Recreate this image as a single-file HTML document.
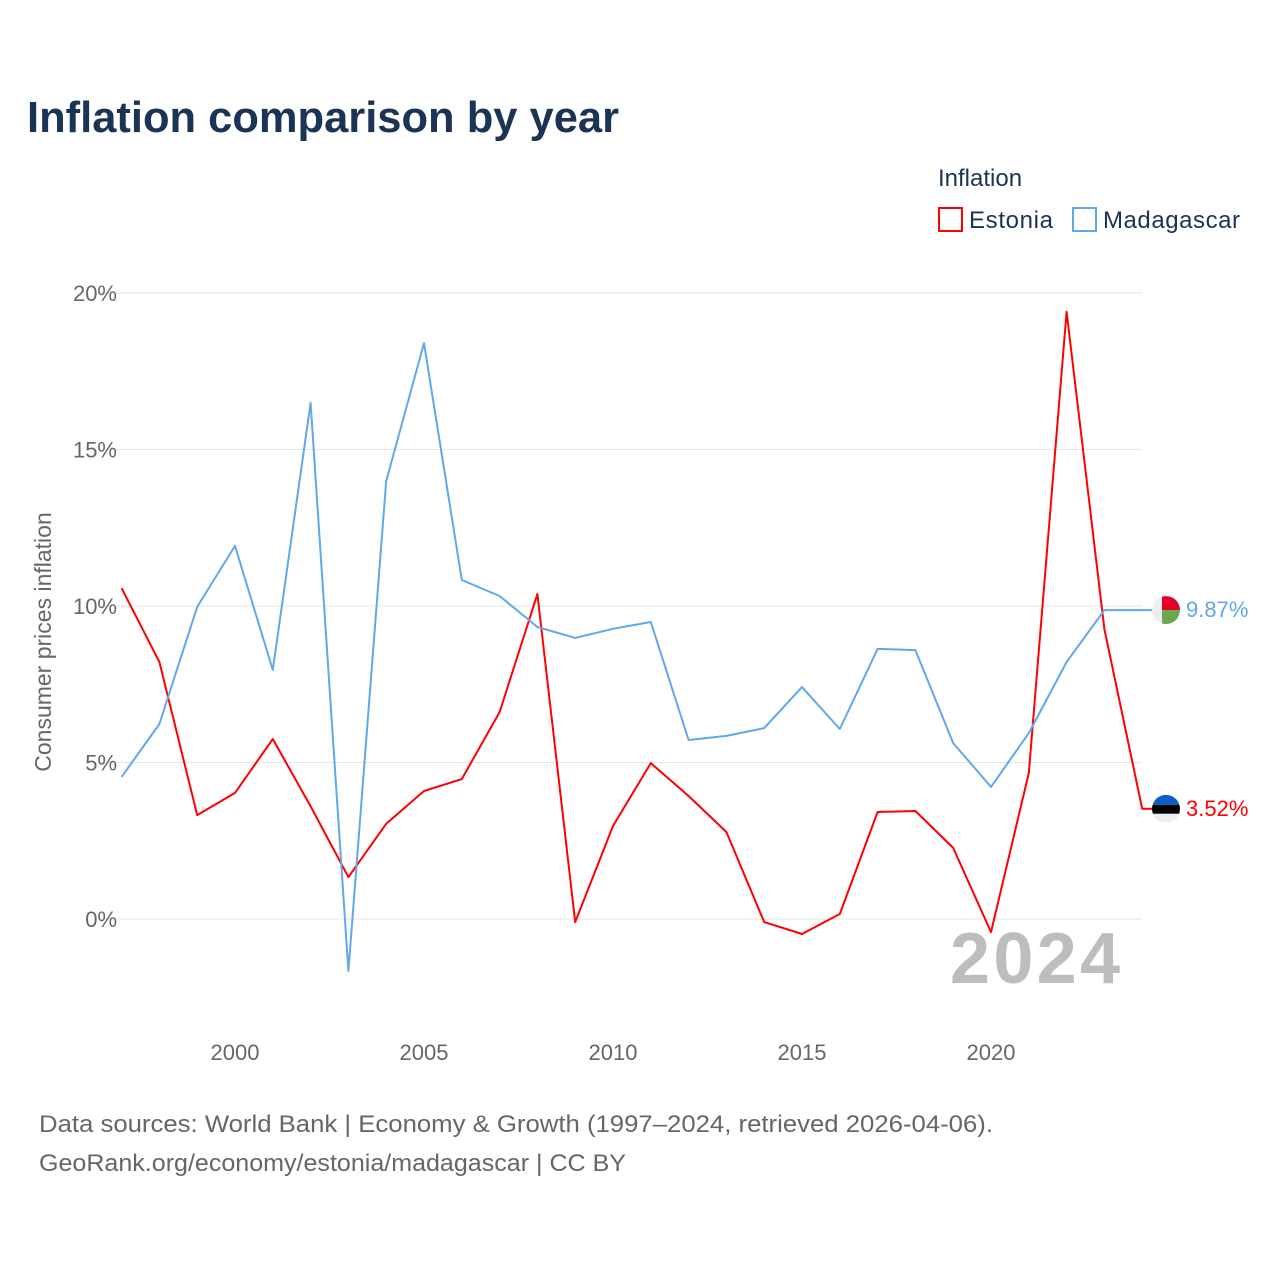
<!DOCTYPE html>
<html><head><meta charset="utf-8"><style>
body{margin:0;width:1280px;height:1280px;background:#fff;font-family:"Liberation Sans",sans-serif;overflow:hidden}
</style></head><body>
<svg width="1280" height="1280" viewBox="0 0 1280 1280">
<text x="27" y="132" font-size="44" font-weight="bold" fill="#1b3354" textLength="592" lengthAdjust="spacingAndGlyphs">Inflation comparison by year</text>
<text x="938" y="186" font-size="24" fill="#1b3354">Inflation</text>
<g><rect x="939" y="208" width="23" height="23" fill="none" stroke="#f00" stroke-width="2"/><text x="969" y="228" font-size="24" fill="#1b3354" textLength="84">Estonia</text></g>
<g><rect x="1073" y="208" width="23" height="23" fill="none" stroke="#5fa8ec" stroke-width="2"/><text x="1103" y="228" font-size="24" fill="#1b3354" textLength="137">Madagascar</text></g>
<g id="grid"></g>
<g id="yticks"></g>
<g id="xticks"></g>
<text transform="translate(51,642) rotate(-90)" text-anchor="middle" font-size="23" fill="#666">Consumer prices inflation</text>
<text x="1120" y="983" text-anchor="end" font-size="72" font-weight="bold" fill="#bdbdbd" textLength="170">2024</text>
<g id="series"></g>
<text x="39" y="1132" font-size="24" fill="#666" textLength="954" lengthAdjust="spacingAndGlyphs">Data sources: World Bank | Economy &amp; Growth (1997–2024, retrieved 2026-04-06).</text>
<text x="39" y="1171" font-size="24" fill="#666" textLength="587" lengthAdjust="spacingAndGlyphs">GeoRank.org/economy/estonia/madagascar | CC BY</text>
</svg>
<script>
const years=[1997,1998,1999,2000,2001,2002,2003,2004,2005,2006,2007,2008,2009,2010,2011,2012,2013,2014,2015,2016,2017,2018,2019,2020,2021,2022,2023,2024];
const estonia=[10.57,8.21,3.32,4.03,5.75,3.6,1.34,3.04,4.09,4.47,6.61,10.38,-0.1,2.97,4.98,3.93,2.78,-0.1,-0.48,0.16,3.42,3.45,2.27,-0.42,4.66,19.4,9.26,3.52];
const madagascar=[4.54,6.23,9.97,11.92,7.96,16.49,-1.66,13.99,18.4,10.83,10.32,9.33,8.98,9.27,9.49,5.72,5.85,6.1,7.41,6.07,8.63,8.59,5.62,4.22,5.94,8.21,9.87,9.87];
const yTicks=[0,5,10,15,20];
const xTicks=[2000,2005,2010,2015,2020];
const NS="http://www.w3.org/2000/svg";
const x=v=>121.6+(v-1997)*37.8;
const y=v=>919-v*31.3;
function mk(tag,attrs,parent,text){const e=document.createElementNS(NS,tag);for(const k in attrs)e.setAttribute(k,attrs[k]);if(text!==undefined)e.textContent=text;parent.appendChild(e);return e;}
const grid=document.getElementById('grid'),yt=document.getElementById('yticks'),xt=document.getElementById('xticks'),ser=document.getElementById('series');
yTicks.forEach(t=>{
 const l=mk('line',{x1:98,x2:1142,y1:y(t),y2:y(t),stroke:'#e6e6e6','stroke-width':1},grid);
 
 
 const tx=mk('text',{x:117,y:y(t)+8,'text-anchor':'end','font-size':22,fill:'#666'},yt,t+'%');
 
 
});
xTicks.forEach(t=>{
 const tx=mk('text',{x:x(t),y:1060,'text-anchor':'middle','font-size':22,fill:'#666'},xt,String(t));
 
 
});
function line(vals,color,name){
 const d=vals.map((v,i)=>(i?'L':'M')+x(years[i]).toFixed(1)+','+y(v).toFixed(1)).join(' ')+' L'+(x(years[years.length-1])+12)+','+y(vals[vals.length-1]).toFixed(1);
 const p=mk('path',{d:d,fill:'none',stroke:color,'stroke-width':2,'stroke-linejoin':'round'},ser);
 
 
 const last=vals[vals.length-1];
 const lt=mk('text',{x:1186,y:y(last)+7,'font-size':22,fill:color},ser,last.toFixed(2)+'%');
 
 
}
line(estonia,'#ff0000','estonia');
line(madagascar,'#5fa8ec','madagascar');
const em=y(estonia[estonia.length-1]),mm=y(madagascar[madagascar.length-1]);
const ef=mk('g',{},ser);


mk('clipPath',{id:'ce'},ef);
mk('circle',{cx:1166,cy:em,r:14},document.getElementById('ce'));
mk('rect',{x:1152,y:em-14,width:28,height:10,fill:'#0a5ec7','clip-path':'url(#ce)'},ef);
mk('rect',{x:1152,y:em-4,width:28,height:9,fill:'#000','clip-path':'url(#ce)'},ef);
mk('rect',{x:1152,y:em+5,width:28,height:9,fill:'#eee','clip-path':'url(#ce)'},ef);
const mf=mk('g',{},ser);


mk('clipPath',{id:'cm'},mf);
mk('circle',{cx:1166,cy:mm,r:14},document.getElementById('cm'));
mk('rect',{x:1152,y:mm-14,width:28,height:28,fill:'#eee','clip-path':'url(#cm)'},mf);
mk('rect',{x:1162,y:mm-14,width:18,height:14,fill:'#e4002b','clip-path':'url(#cm)'},mf);
mk('rect',{x:1162,y:mm,width:18,height:14,fill:'#6aa84f','clip-path':'url(#cm)'},mf);
</script>
</body></html>
